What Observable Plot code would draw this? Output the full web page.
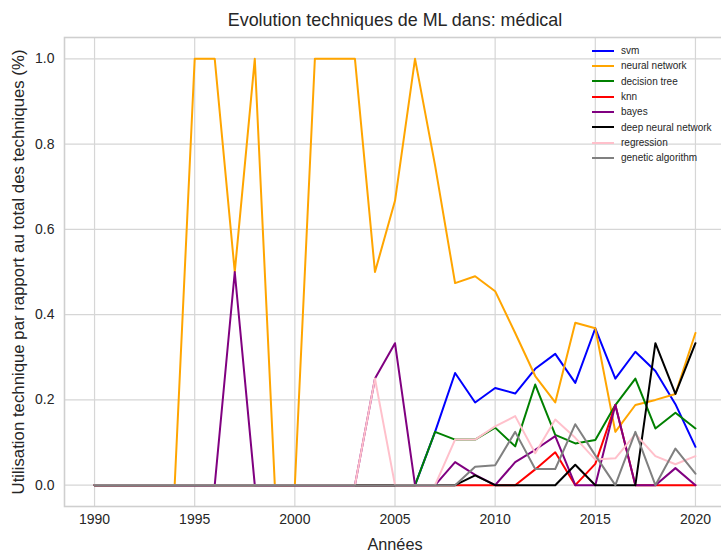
<!DOCTYPE html>
<html><head><meta charset="utf-8">
<script src="https://cdn.jsdelivr.net/npm/d3@7"></script>
<script src="https://cdn.jsdelivr.net/npm/@observablehq/plot@0.6"></script>
<style>
body{margin:0;background:#fff;}
#wrap{position:relative;width:721px;height:552px;overflow:hidden;font-family:"Liberation Sans",Arial,sans-serif;}
#legend{position:absolute;left:590px;top:43px;font-size:10px;color:#262626;}
.row{display:flex;align-items:center;height:15.33px;white-space:nowrap;}
.sw{width:22px;height:2px;margin-left:2px;margin-right:7px;}
</style></head><body><div id="wrap"></div>
<script>
const years = [1990,1991,1992,1993,1994,1995,1996,1997,1998,1999,2000,2001,2002,2003,2004,2005,2006,2007,2008,2009,2010,2011,2012,2013,2014,2015,2016,2017,2018,2019,2020];
const seriesNames = ["svm","neural network","decision tree","knn","bayes","deep neural network","regression","genetic algorithm"];
const seriesColors = ["blue","orange","green","red","purple","black","pink","grey"];

const svm =        [0,0,0,0,0,0,0,0,0,0,0,0,0,0,0,0,0,0.125,0.263,0.194,0.228,0.215,0.273,0.308,0.24,0.368,0.25,0.313,0.268,0.19,0.09];
const neuralNet =  [0,0,0,0,0,1,1,0.5,1,0,0,1,1,1,0.5,0.667,1,0.75,0.474,0.49,0.455,0.357,0.256,0.194,0.381,0.368,0.125,0.188,0.2,0.214,0.357];
const decisionTree=[0,0,0,0,0,0,0,0,0,0,0,0,0,0,0,0,0,0.125,0.107,0.107,0.135,0.091,0.236,0.118,0.098,0.106,0.188,0.25,0.133,0.17,0.133];
const knn =        [0,0,0,0,0,0,0,0,0,0,0,0,0,0,0,0,0,0,0,0,0,0,0.037,0.077,0,0.05,0.188,0,0,0,0];
const bayes =      [0,0,0,0,0,0,0,0.5,0,0,0,0,0,0,0.25,0.333,0,0,0.054,0.024,0,0.054,0.083,0.115,0,0,0.188,0,0,0.04,0];
const deepNN =     [0,0,0,0,0,0,0,0,0,0,0,0,0,0,0,0,0,0,0,0.023,0,0,0,0,0.048,0,0,0,0.333,0.214,0.333];
const regression = [0,0,0,0,0,0,0,0,0,0,0,0,0,0,0.25,0,0,0,0.107,0.107,0.138,0.162,0.075,0.154,0.111,0.06,0.063,0.12,0.068,0.049,0.068];
const genetic =    [0,0,0,0,0,0,0,0,0,0,0,0,0,0,0,0,0,0,0,0.043,0.047,0.125,0.038,0.038,0.143,0.07,0,0.125,0,0.086,0.027];

const xTicks = [1990,1995,2000,2005,2010,2015,2020];
const yTicks = [0,0.2,0.4,0.6,0.8,1.0];
const titleText = "Evolution techniques de ML dans: médical";
const xLabel = "Années";
const yLabel = "Utilisation technique par rapport au total des techniques (%)";

const seriesValues = [svm,neuralNet,decisionTree,knn,bayes,deepNN,regression,genetic];
const table = [];
seriesNames.forEach((name,i)=>{
  seriesValues[i].forEach((v,j)=>table.push({year:years[j], value:v, series:name}));
});

const font = "Liberation Sans, Arial, sans-serif";
const chart = Plot.plot({
  width:721, height:552,
  marginLeft:64, marginRight:-4, marginTop:37, marginBottom:46,
  style:{fontFamily:font, fontSize:"14px", color:"#262626", background:"#fff", overflow:"visible"},
  x:{domain:[1988.5,2021.5]},
  y:{domain:[-0.05,1.05]},
  color:{domain:seriesNames, range:seriesColors},
  marks:[
    Plot.ruleX(xTicks,{stroke:"#d6d6d6", strokeWidth:1.2}),
    Plot.ruleY(yTicks,{stroke:"#d6d6d6", strokeWidth:1.2}),
    Plot.frame({stroke:"#cfcfcf", strokeWidth:1.6}),
    Plot.axisX(xTicks,{tickSize:0, tickPadding:8, tickFormat:d=>String(d), label:null, fontSize:14}),
    Plot.axisY(yTicks,{tickSize:0, tickPadding:10, tickFormat:d=>d.toFixed(1), label:null, fontSize:14}),
    Plot.line(table,{x:"year", y:"value", z:"series", stroke:"series", strokeWidth:2}),
    Plot.text([titleText],{text:d=>d, frameAnchor:"top", lineAnchor:"middle", textAnchor:"middle", dy:-17, fontSize:17.9, fill:"#262626"}),
    Plot.text([xLabel],{text:d=>d, frameAnchor:"bottom", lineAnchor:"middle", textAnchor:"middle", dy:38, fontSize:16.3, fill:"#262626"}),
    Plot.text([yLabel],{text:d=>d, frameAnchor:"left", lineAnchor:"middle", textAnchor:"middle", dx:-46, rotate:-90, fontSize:16.8, fill:"#262626"})
  ]
});
const wrap = document.getElementById("wrap");
wrap.appendChild(chart);

const legend = document.createElement("div");
legend.id = "legend";
seriesNames.forEach((name,i)=>{
  const row = document.createElement("div");
  row.className = "row";
  const sw = document.createElement("div");
  sw.className = "sw";
  sw.style.background = seriesColors[i];
  const lab = document.createElement("span");
  lab.textContent = name;
  row.appendChild(sw); row.appendChild(lab);
  legend.appendChild(row);
});
wrap.appendChild(legend);
</script>
</body></html>
